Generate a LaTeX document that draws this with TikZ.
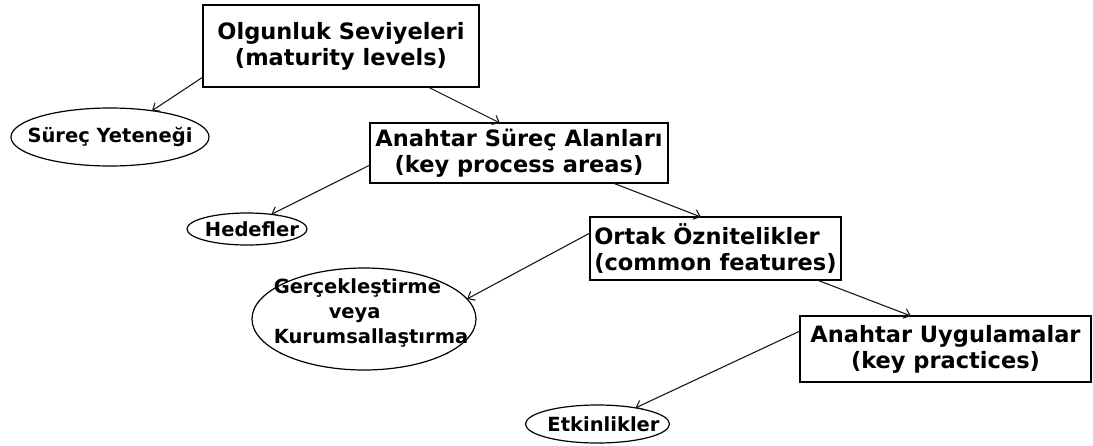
\documentclass[tikz,border=0pt]{standalone}
\usepackage{fontspec}
\setmainfont{DejaVu Sans}
\usetikzlibrary{shapes.geometric,arrows.meta}
\begin{document}
\begin{tikzpicture}[x=1pt,y=-1pt,
  box/.style={draw=black, line width=1.4pt, rectangle, inner sep=3pt, outer sep=0pt,
    font=\fontsize{22.5}{26}\selectfont\bfseries, align=center},
  oval/.style={draw=black, line width=1.2pt, ellipse, inner sep=0pt, outer sep=0pt},
  ovaltext/.style={font=\fontsize{19.5}{25}\selectfont\bfseries, align=center, inner sep=0pt},
  link/.style={draw=black!90, line width=1.1pt, -{Straight Barb[length=6pt,width=10pt]}}
]
\useasboundingbox (0,0) rectangle (1093,445);

% levels of the model (boxes)
\node[box, minimum width=276pt, minimum height=82pt] (b1) at (341,46)
  {Olgunluk Seviyeleri\\(maturity levels)};
\node[box, minimum width=298pt, minimum height=60pt] (b2) at (519,153)
  {Anahtar Süreç Alanları\\(key process areas)};
\node[box, align=left, minimum width=251pt, minimum height=63pt] (b3) at (715.5,248.5)
  {Ortak Öznitelikler\\(common features)};
\node[box, minimum width=291pt, minimum height=66pt] (b4) at (945.5,349)
  {Anahtar Uygulamalar\\(key practices)};

% what each level contains (ovals)
\node[oval, minimum width=198pt, minimum height=58pt,
  label={[ovaltext]center:Süreç Yeteneği}] (e1) at (110,137) {};
\node[oval, minimum width=120pt, minimum height=32pt,
  label={[ovaltext, xshift=5pt]center:Hedefler}] (e2) at (247,229) {};
\node[oval, minimum width=224pt, minimum height=102pt,
  label={[ovaltext, align=left, xshift=7pt, yshift=6pt]center:Gerçekleştirme\\\hspace*{55pt}veya\\Kurumsallaştırma}] (e3) at (364,319) {};
\node[oval, minimum width=144pt, minimum height=38pt,
  label={[ovaltext, xshift=6pt]center:Etkinlikler}] (e4) at (597.5,424) {};

% connectors
\draw[link] ([yshift=10pt]b1.south west) -- (e1.32);
\draw[link] ([xshift=87pt]b1.south) -- ([xshift=-19pt]b2.north);
\draw[link] ([yshift=-12pt]b2.west) -- (e2.31.6);
\draw[link] ([xshift=94pt]b2.south) -- ([xshift=-14.5pt]b3.north);
\draw[link] ([yshift=15.5pt]b3.west) -- (e3.11);
\draw[link] ([xshift=101.5pt]b3.south) -- ([xshift=-34.5pt]b4.north);
\draw[link] ([yshift=18pt]b4.west) -- (e4.23);
\end{tikzpicture}
\end{document}
